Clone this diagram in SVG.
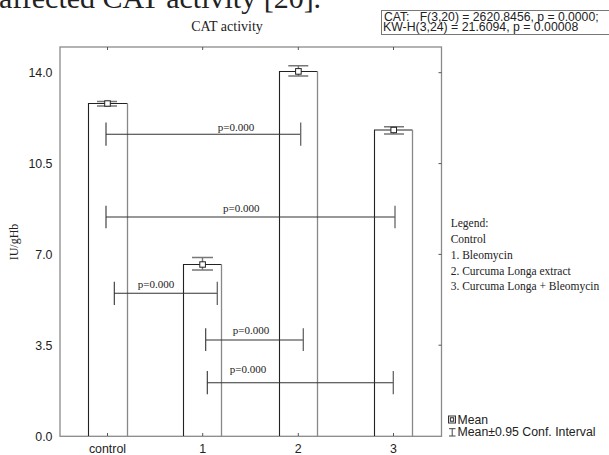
<svg xmlns="http://www.w3.org/2000/svg" width="609" height="455" viewBox="0 0 609 455">
<style>
.serif{font-family:"Liberation Serif","Times New Roman",serif;fill:#222}
.sans{font-family:"Liberation Sans",Arial,sans-serif;fill:#222}
.frame{fill:none;stroke:#8a8a8a;stroke-width:1.3}
.barL{stroke:#222;stroke-width:1.1;fill:none}
.barR{stroke:#888;stroke-width:1.3;fill:none}
.err{stroke:#777;stroke-width:1.4;fill:none}
.mean{fill:#fff;stroke:#222;stroke-width:1}
.br{stroke:#333;stroke-width:1.1;fill:none}
.cap{stroke:#666;stroke-width:1.3;fill:none}
.tick{stroke:#555;stroke-width:1}
.pl{font-size:11px}
.yl{font-size:12.4px;text-anchor:end}
.xl{font-size:12.4px;text-anchor:middle}
.lg{font-size:11.5px}
</style>

<text class="serif" x="-1" y="8" font-size="30">affected CAT activity [20].</text>

<g id="title"><text class="serif" x="227" y="31" font-size="14" text-anchor="middle">CAT activity</text></g>

<g id="stats">
<rect x="381.5" y="10.5" width="240" height="24" fill="#fff" stroke="#777" stroke-width="1"/>
<text class="sans" x="384" y="20.6" font-size="12.2" xml:space="preserve">CAT:   F(3,20) = 2620.8456, p = 0.0000;</text>
<text class="sans" x="383" y="31.2" font-size="12.3">KW-H(3,24) = 21.6094, p = 0.00008</text>
</g>

<g id="axes">
<rect class="frame" x="60" y="47" width="381.5" height="389.3"/>
<g class="tick">
<line x1="107.5" y1="47" x2="107.5" y2="50"/><line x1="202.7" y1="47" x2="202.7" y2="50"/><line x1="298.3" y1="47" x2="298.3" y2="50"/><line x1="393.5" y1="47" x2="393.5" y2="50"/>
<line x1="107.5" y1="436" x2="107.5" y2="433"/><line x1="202.7" y1="436" x2="202.7" y2="433"/><line x1="298.3" y1="436" x2="298.3" y2="433"/><line x1="393.5" y1="436" x2="393.5" y2="433"/>
<line x1="441.5" y1="72.7" x2="438.5" y2="72.7"/><line x1="441.5" y1="163.6" x2="438.5" y2="163.6"/><line x1="441.5" y1="254.4" x2="438.5" y2="254.4"/><line x1="441.5" y1="345.2" x2="438.5" y2="345.2"/>
</g>
<text class="sans yl" x="52.5" y="77.2">14.0</text>
<text class="sans yl" x="52.5" y="168.1">10.5</text>
<text class="sans yl" x="52.5" y="258.9">7.0</text>
<text class="sans yl" x="52.5" y="349.7">3.5</text>
<text class="sans yl" x="52.5" y="440.5">0.0</text>
<text class="sans xl" x="107.5" y="453">control</text>
<text class="sans xl" x="202.7" y="453">1</text>
<text class="sans xl" x="298.3" y="453">2</text>
<text class="sans xl" x="393.5" y="453">3</text>
<text class="serif" transform="translate(17.5,242) rotate(-90)" font-size="12" text-anchor="middle">IU/gHb</text>
</g>

<g id="bar-control">
<path class="barL" d="M88.5,436 V103.5 H127.5"/><path class="barR" d="M127.5,103.5 V436"/>
<path class="err" d="M97,101.5 H117 M97,106 H117 M107.5,101.5 V106"/>
<rect class="mean" x="104.7" y="100.8" width="5.6" height="5.4"/>
</g>
<g id="bar-1">
<path class="barL" d="M183.5,436 V264.5 H221.5"/><path class="barR" d="M221.5,264.5 V436"/>
<path class="err" d="M192,257.5 H213 M192,270 H213 M202.5,257.5 V270"/>
<rect class="mean" x="199.8" y="261.8" width="5.6" height="5.4"/>
</g>
<g id="bar-2">
<path class="barL" d="M279.5,436 V71.5 H317.5"/><path class="barR" d="M317.5,71.5 V436"/>
<path class="err" d="M288.3,65.7 H308.3 M288.3,76 H308.3 M298.4,65.7 V76"/>
<rect class="mean" x="295.6" y="68.6" width="5.6" height="5.6"/>
</g>
<g id="bar-3">
<path class="barL" d="M374.5,436 V130 H412.5"/><path class="barR" d="M412.5,130 V436"/>
<path class="err" d="M384,126.7 H404 M384,134 H404 M393.7,126.7 V134"/>
<rect class="mean" x="390.9" y="127.3" width="5.6" height="5.4"/>
</g>

<g id="connectors">
<path class="br" d="M106,134.3 H300.7 M106,122.5 V145.8"/><path class="cap" d="M300.7,122.5 V145.8"/>
<text class="serif pl" x="236" y="131" text-anchor="middle">p=0.000</text>

<path class="br" d="M106,217 H395 M106,205.7 V228.3"/><path class="cap" d="M395,205.7 V228.3"/>
<text class="serif pl" x="241.3" y="211.7" text-anchor="middle">p=0.000</text>

<path class="br" d="M114.3,293.3 H217.3 M114.3,281.7 V305"/><path class="cap" d="M217.3,281.7 V305"/>
<text class="serif pl" x="156" y="288.3" text-anchor="middle">p=0.000</text>

<path class="br" d="M205.7,340 H303.3 M205.7,328.3 V351"/><path class="cap" d="M303.3,328.3 V351"/>
<text class="serif pl" x="251" y="334.3" text-anchor="middle">p=0.000</text>

<path class="br" d="M207.3,382.7 H393.3 M207.3,371 V394.3"/><path class="cap" d="M393.3,371 V394.3"/>
<text class="serif pl" x="248" y="373.3" text-anchor="middle">p=0.000</text>
</g>

<g id="legend">
<text class="serif lg" x="450.7" y="226.7">Legend:</text>
<text class="serif lg" x="450.7" y="243.3">Control</text>
<text class="serif lg" x="450.7" y="259.3">1. Bleomycin</text>
<text class="serif lg" x="450.7" y="274.5">2. Curcuma Longa extract</text>
<text class="serif lg" x="450.7" y="289.5">3. Curcuma Longa + Bleomycin</text>
<rect x="448.5" y="416" width="7" height="7" fill="#fff" stroke="#333" stroke-width="1"/>
<rect x="450.3" y="417.8" width="3.4" height="3.4" fill="#fff" stroke="#222" stroke-width="1"/>
<text class="sans" x="457.5" y="424.3" font-size="12.2">Mean</text>
<path d="M449,428.7 H455.5 M449,436 H455.5 M452.2,428.7 V436" stroke="#444" stroke-width="1" fill="none"/>
<text class="sans" x="457.5" y="436.2" font-size="12.3">Mean±0.95 Conf. Interval</text>
</g>
</svg>
